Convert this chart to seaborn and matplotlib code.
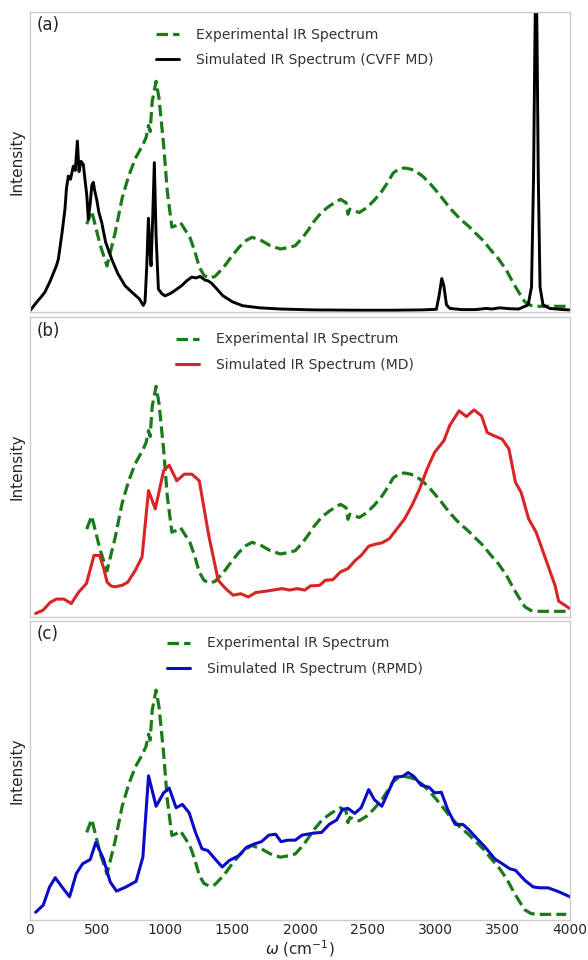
import numpy as np
import pandas as pd
import matplotlib
matplotlib.use("Agg")
import matplotlib.pyplot as plt
import seaborn as sns

# ---------------- data ----------------
omega_exp = [420, 457, 520, 570, 630, 683, 730, 780, 836, 860, 878, 890, 905, 934, 956,
             990, 1017, 1051, 1080, 1115, 1150, 1185, 1220, 1254, 1290, 1330, 1370, 1435,
             1490, 1547, 1600, 1645, 1714, 1780, 1854, 1920, 1965, 2021, 2060, 2105, 2160,
             2216, 2260, 2300, 2341, 2355, 2369, 2400, 2439, 2495, 2550, 2606, 2650, 2690,
             2730, 2774, 2820, 2857, 2910, 2969, 3040, 3108, 3180, 3247, 3300, 3359, 3410,
             3470, 3530, 3582, 3630, 3666, 3710, 3749, 3850, 3972]
int_exp = [0.29, 0.334, 0.22, 0.15, 0.26, 0.378, 0.45, 0.51, 0.555, 0.58, 0.62, 0.60, 0.70,
           0.768, 0.71, 0.555, 0.40, 0.28, 0.285, 0.295, 0.27, 0.245, 0.20, 0.146, 0.118,
           0.11, 0.115, 0.146, 0.18, 0.212, 0.235, 0.246, 0.235, 0.218, 0.207, 0.212, 0.218,
           0.246, 0.27, 0.30, 0.33, 0.35, 0.363, 0.373, 0.362, 0.323, 0.34, 0.335, 0.329,
           0.345, 0.37, 0.40, 0.43, 0.461, 0.474, 0.478, 0.474, 0.467, 0.45, 0.423, 0.385,
           0.345, 0.31, 0.284, 0.26, 0.234, 0.205, 0.174, 0.135, 0.091, 0.055, 0.03, 0.018,
           0.015, 0.015, 0.015]

omega_cvff = [0, 12, 42, 80, 111, 150, 195, 210, 237, 259, 270, 284, 300, 321, 335, 351,
              363, 378, 395, 407, 420, 432, 446, 458, 469, 480, 494, 510, 531, 560, 605,
              650, 704, 760, 810, 839, 852, 865, 877, 888, 897, 908, 921, 934, 951, 975,
              1000, 1040, 1080, 1123, 1160, 1198, 1230, 1260, 1296, 1320, 1346, 1390, 1430,
              1500, 1575, 1700, 1854, 2100, 2400, 2700, 2900, 3010, 3030, 3050, 3065, 3085,
              3110, 3200, 3300, 3380, 3420, 3480, 3550, 3620, 3690, 3715, 3730, 3740, 3748,
              3756, 3765, 3778, 3800, 3850, 3950, 4000]
int_cvff = [0.0, 0.007, 0.025, 0.045, 0.063, 0.10, 0.15, 0.173, 0.26, 0.34, 0.41, 0.451,
            0.44, 0.484, 0.47, 0.568, 0.466, 0.50, 0.49, 0.44, 0.39, 0.307, 0.36, 0.42, 0.43,
            0.40, 0.373, 0.33, 0.296, 0.23, 0.173, 0.125, 0.084, 0.06, 0.04, 0.018, 0.03,
            0.15, 0.31, 0.20, 0.151, 0.30, 0.496, 0.25, 0.073, 0.058, 0.05, 0.058, 0.07,
            0.084, 0.10, 0.113, 0.11, 0.115, 0.103, 0.10, 0.092, 0.07, 0.05, 0.03, 0.017,
            0.01, 0.006, 0.003, 0.002, 0.002, 0.003, 0.005, 0.05, 0.108, 0.085, 0.02, 0.008,
            0.004, 0.004, 0.008, 0.006, 0.01, 0.007, 0.006, 0.02, 0.08, 0.45, 0.9, 1.2, 0.9,
            0.45, 0.08, 0.02, 0.008, 0.004, 0.003]

omega_md = [42, 97, 150, 195, 251, 306, 362, 418, 474, 516, 545, 571, 600, 627, 683, 725,
            780, 830, 878, 928, 990, 1031, 1087, 1143, 1199, 1254, 1324, 1394, 1449, 1505,
            1561, 1617, 1672, 1742, 1798, 1868, 1923, 1979, 2035, 2077, 2146, 2188, 2244,
            2300, 2355, 2411, 2453, 2509, 2560, 2606, 2662, 2718, 2774, 2829, 2885, 2941,
            2997, 3066, 3108, 3178, 3233, 3289, 3345, 3387, 3450, 3498, 3548, 3596, 3638,
            3694, 3749, 3819, 3889, 3916, 4000]
int_md = [0.008, 0.019, 0.045, 0.056, 0.056, 0.041, 0.08, 0.108, 0.202, 0.202, 0.16, 0.113,
          0.10, 0.097, 0.102, 0.113, 0.152, 0.197, 0.419, 0.358, 0.486, 0.504, 0.452, 0.474,
          0.474, 0.452, 0.269, 0.119, 0.091, 0.069, 0.074, 0.063, 0.078, 0.082, 0.086,
          0.091, 0.086, 0.091, 0.086, 0.10, 0.102, 0.119, 0.121, 0.147, 0.158, 0.186, 0.202,
          0.233, 0.240, 0.244, 0.258, 0.291, 0.324, 0.369, 0.424, 0.491, 0.547, 0.586,
          0.636, 0.686, 0.667, 0.689, 0.669, 0.613, 0.60, 0.591, 0.558, 0.447, 0.413,
          0.324, 0.28, 0.191, 0.102, 0.049, 0.024]

omega_rpmd = [42, 98, 145, 187, 237, 293, 343, 390, 446, 488, 544, 594, 641, 711, 786, 836,
              878, 934, 990, 1031, 1082, 1129, 1179, 1226, 1274, 1318, 1380, 1424, 1477,
              1547, 1603, 1659, 1714, 1770, 1820, 1859, 1909, 1965, 2015, 2105, 2160, 2216,
              2272, 2314, 2355, 2405, 2453, 2509, 2551, 2606, 2662, 2704, 2760, 2801, 2843,
              2899, 2955, 2997, 3047, 3094, 3150, 3206, 3247, 3303, 3373, 3443, 3498, 3554,
              3596, 3666, 3727, 3777, 3838, 3916, 4000]
int_rpmd = [0.022, 0.046, 0.107, 0.138, 0.107, 0.074, 0.152, 0.185, 0.199, 0.257, 0.201,
            0.124, 0.093, 0.107, 0.126, 0.207, 0.48, 0.378, 0.423, 0.439, 0.373, 0.384,
            0.356, 0.29, 0.235, 0.229, 0.196, 0.174, 0.196, 0.212, 0.24, 0.251, 0.259, 0.281,
            0.284, 0.259, 0.264, 0.264, 0.281, 0.288, 0.29, 0.317, 0.332, 0.367, 0.371,
            0.354, 0.373, 0.434, 0.40, 0.378, 0.434, 0.476, 0.478, 0.491, 0.478, 0.448,
            0.442, 0.423, 0.425, 0.367, 0.317, 0.317, 0.301, 0.273, 0.24, 0.201, 0.185,
            0.168, 0.163, 0.129, 0.107, 0.104, 0.104, 0.091, 0.074]

x_ticks = [0, 500, 1000, 1500, 2000, 2500, 3000, 3500, 4000]
panel_labels = ["(a)", "(b)", "(c)"]
sim_labels = ["Simulated IR Spectrum (CVFF MD)", "Simulated IR Spectrum (MD)",
              "Simulated IR Spectrum (RPMD)"]
exp_label = "Experimental IR Spectrum"

# ---------------- style ----------------
sns.set_theme(style="white")
plt.rcParams["font.family"] = ["DejaVu Sans"]

fig = plt.figure(figsize=(5.88, 9.6), dpi=100)
left, width = 30 / 588, 540 / 588
rects = [(left, 1 - 312 / 960, width, 300 / 960),
         (left, 1 - 617 / 960, width, 300 / 960),
         (left, 1 - 920 / 960, width, 299 / 960)]

sims = [(omega_cvff, int_cvff, "black"),
        (omega_md, int_md, "#d92424"),
        (omega_rpmd, int_rpmd, "#0a0ac8")]

exp_df = pd.DataFrame({"omega": omega_exp, "I": int_exp})

for i, rect in enumerate(rects):
    ax = fig.add_axes(rect)
    sx, sy, col = sims[i]
    sim_df = pd.DataFrame({"omega": sx, "I": sy})
    sns.lineplot(data=exp_df, x="omega", y="I", ax=ax, color="#1a7a1a", lw=2.3,
                 linestyle="--", label=exp_label, dashes=False)
    ax.lines[-1].set_dashes((3.6, 1.6))
    sns.lineplot(data=sim_df, x="omega", y="I", ax=ax, color=col,
                 lw=2.1 if i == 0 else 2.2, label=sim_labels[i])
    ax.set_xlim(0, 4000)
    ax.set_ylim(-0.004, 1.0)
    ax.set_yticks([])
    ax.set_xticks(x_ticks)
    ax.tick_params(axis="both", length=0, labelsize=10, pad=2)
    if i < 2:
        ax.set_xticklabels([])
        ax.set_xlabel("")
    else:
        ax.set_xticklabels([str(t) for t in x_ticks])
        ax.set_xlabel(r"$\omega$ (cm$^{-1}$)", fontsize=11, labelpad=1)
    ax.set_ylabel("Intensity", fontsize=11, labelpad=4)
    for s in ax.spines.values():
        s.set_color("#cccccc")
        s.set_linewidth(1.0)
    ax.grid(False)
    ax.text(0.012, 0.985, panel_labels[i], transform=ax.transAxes, ha="left", va="top",
            fontsize=12, color="#222222")
    leg = ax.legend(loc="upper center", bbox_to_anchor=(0.49, 0.99), frameon=False,
                    fontsize=10, handlelength=1.7, handletextpad=1.2, labelspacing=0.85)
    for t in leg.get_texts():
        t.set_color("#333333")

fig.savefig("out.png", dpi=100)
